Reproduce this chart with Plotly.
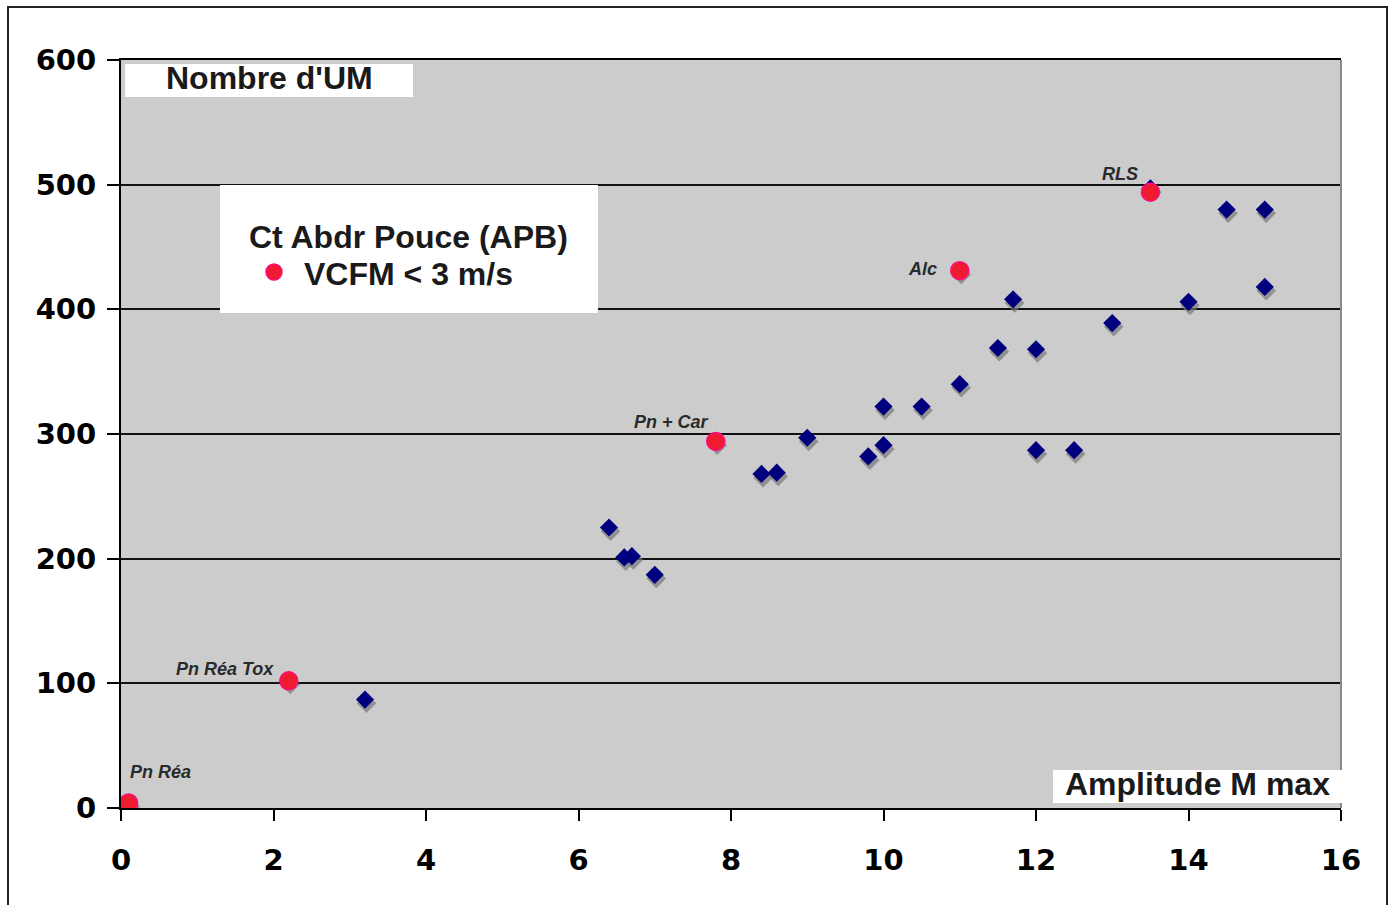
import plotly.graph_objects as go

# Blue diamonds: all subjects (Amplitude M max, Nombre d'UM)
amp_all = [0.1, 2.2, 3.2, 6.4, 6.6, 6.7, 7.0, 7.8, 8.4, 8.6, 9.0, 9.8, 10.0, 10.0,
           10.5, 11.0, 11.0, 11.5, 11.7, 12.0, 12.0, 12.5, 13.0, 13.5, 14.0, 14.5, 15.0, 15.0]
um_all = [4, 102, 87, 225, 201, 202, 187, 294, 268, 269, 297, 282, 291, 322,
          322, 340, 431, 369, 408, 368, 287, 287, 389, 497, 406, 480, 480, 418]

# Red circles: VCFM < 3 m/s
amp_red = [0.1, 2.2, 7.8, 11.0, 13.5]
um_red = [4, 102, 294, 431, 494]
red_labels = ["Pn Réa", "Pn Réa Tox", "Pn + Car", "Alc", "RLS"]

x_ticks = [0, 2, 4, 6, 8, 10, 12, 14, 16]
y_ticks = [0, 100, 200, 300, 400, 500, 600]

# label pixel offsets (style)
label_style = [
    dict(xanchor="left", xshift=-1, yshift=31),
    dict(xanchor="right", xshift=-13, yshift=12),
    dict(xanchor="right", xshift=-5, yshift=19),
    dict(xanchor="right", xshift=-21, yshift=2),
    dict(xanchor="right", xshift=-10, yshift=18),
]

fig = go.Figure()

# drop shadows
fig.add_trace(go.Scatter(
    x=[a + 0.02 for a in amp_all], y=[u - 3.0 for u in um_all], mode="markers",
    marker=dict(symbol="diamond", size=15, color="rgba(120,120,120,0.7)"),
    hoverinfo="skip", showlegend=False))
fig.add_trace(go.Scatter(
    x=amp_all, y=um_all, mode="markers",
    marker=dict(symbol="diamond", size=14, color="#00007f"),
    showlegend=False))
fig.add_trace(go.Scatter(
    x=amp_red, y=um_red, mode="markers",
    marker=dict(symbol="circle", size=18, color="#ee1c2e",
                line=dict(color="#ff0a84", width=1.5)),
    showlegend=False))

for xv, yv, txt, st in zip(amp_red, um_red, red_labels, label_style):
    fig.add_annotation(x=xv, y=yv, text=txt, showarrow=False,
                       font=dict(family="Liberation Sans", size=18, color="#2a2a2a",
                                 weight="bold", style="italic"),
                       yanchor="middle", **st)

W, H = 1394, 905
L, R, T, B = 121, 53, 60, 97
pw, ph = W - L - R, H - T - B


def px(xp):
    return (xp - L) / pw


def py(yp):
    return (H - B - yp) / ph


shapes = [
    # outer frame
    dict(type="rect", xref="paper", yref="paper", x0=px(8), x1=px(1387), y0=py(925), y1=py(7),
         line=dict(color="#222222", width=2), layer="below"),
    # right plot border (gray)
    dict(type="line", xref="paper", yref="paper", x0=1, x1=1, y0=0, y1=1,
         line=dict(color="#8a8a8a", width=2), layer="above"),
    # white boxes
    dict(type="rect", xref="paper", yref="paper", x0=px(125), x1=px(413), y0=py(97), y1=py(64),
         fillcolor="white", line=dict(width=0), layer="above"),
    dict(type="rect", xref="paper", yref="paper", x0=px(220), x1=px(598), y0=py(313), y1=py(185),
         fillcolor="white", line=dict(width=0), layer="above"),
    dict(type="rect", xref="paper", yref="paper", x0=px(1053), x1=px(1342), y0=py(803), y1=py(770),
         fillcolor="white", line=dict(width=0), layer="above"),
    # legend dot
    dict(type="circle", xref="paper", yref="paper", x0=px(266), x1=px(282), y0=py(280), y1=py(264),
         fillcolor="#ee1c2e", line=dict(color="#ff0a84", width=1.5), layer="above"),
]

title_font = dict(family="Liberation Sans", size=32, color="#1a1a1a", weight="bold")
fig.add_annotation(xref="paper", yref="paper", x=px(269), y=py(78), text="Nombre d'UM",
                   showarrow=False, font=title_font, xanchor="center", yanchor="middle")
fig.add_annotation(xref="paper", yref="paper", x=px(408), y=py(237), text="Ct Abdr Pouce (APB)",
                   showarrow=False, font=title_font, xanchor="center", yanchor="middle")
fig.add_annotation(xref="paper", yref="paper", x=px(302), y=py(274), text="VCFM &lt; 3 m/s",
                   showarrow=False, font=title_font, xanchor="left", yanchor="middle")
fig.add_annotation(xref="paper", yref="paper", x=px(1197), y=py(784), text="Amplitude M max",
                   showarrow=False, font=title_font, xanchor="center", yanchor="middle")

tick_font = dict(family="DejaVu Sans", size=29, color="black", weight="bold")

fig.update_layout(
    width=W, height=H,
    margin=dict(l=L, r=R, t=T, b=B),
    paper_bgcolor="white", plot_bgcolor="#cccccc",
    shapes=shapes,
    xaxis=dict(range=[0, 16], tickvals=x_ticks, ticktext=[str(v) for v in x_ticks],
               showgrid=False, zeroline=False, showline=True, linecolor="black", linewidth=2,
               mirror=True, ticks="outside", ticklen=11, tickwidth=2, tickcolor="black",
               tickfont=tick_font, ticklabelstandoff=14),
    yaxis=dict(range=[0, 600], tickvals=y_ticks, ticktext=[str(v) for v in y_ticks],
               showgrid=True, gridcolor="#111111", gridwidth=2, zeroline=False,
               showline=True, linecolor="black", linewidth=2,
               ticks="outside", ticklen=12, tickwidth=2, tickcolor="black",
               tickfont=tick_font, ticklabelstandoff=5),
    showlegend=False,
)

fig.write_html("out.html")
